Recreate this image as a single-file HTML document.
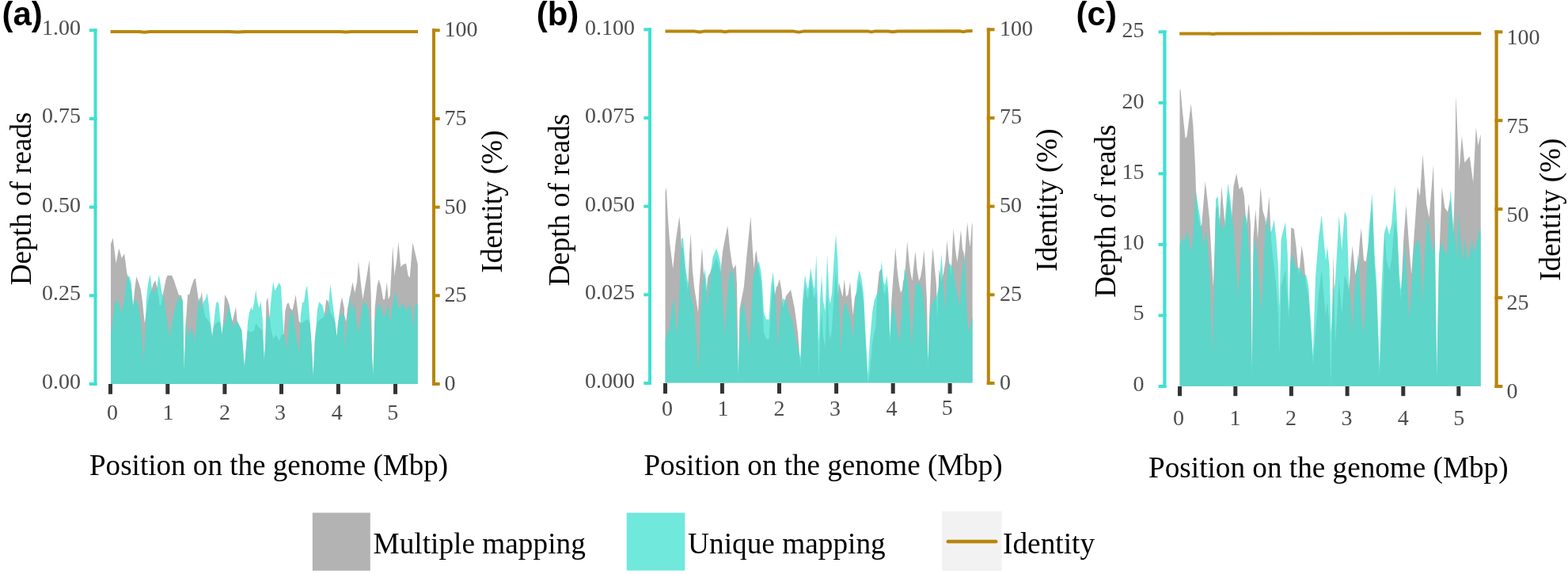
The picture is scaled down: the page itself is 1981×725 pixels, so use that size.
<!DOCTYPE html>
<html><head><meta charset="utf-8"><title>Depth of reads</title>
<style>html,body{margin:0;padding:0;background:#fff;} svg{display:block;}</style></head>
<body><svg width="1981" height="725" viewBox="0 0 1981 725">
<rect width="1981" height="725" fill="#ffffff"/>
<path d="M140.0,484.9 L140.0,307.9 L142.7,300.5 L146.6,332.8 L150.2,313.4 L153.8,325.9 L157.1,320.3 L160.4,345.2 L162.6,352.1 L164.8,359.0 L166.7,372.8 L168.1,386.6 L170.3,364.5 L172.2,349.3 L175.0,356.2 L177.8,365.9 L180.0,381.0 L181.9,400.3 L182.7,408.6 L184.7,394.8 L186.9,381.0 L188.8,372.8 L191.6,365.9 L193.5,359.0 L196.2,354.0 L198.4,363.1 L200.1,372.8 L201.8,386.6 L204.0,383.8 L205.6,372.8 L207.3,364.5 L209.5,353.4 L211.4,347.9 L217.2,347.9 L220.0,354.8 L222.7,363.1 L226.0,372.8 L228.8,372.8 L231.0,381.0 L232.7,469.3 L234.9,405.9 L237.2,371.4 L239.1,372.8 L241.1,364.5 L244.7,353.4 L246.9,351.2 L248.8,364.5 L251.0,381.0 L252.9,378.3 L254.9,368.6 L257.1,389.3 L259.3,400.3 L261.8,403.1 L264.0,405.9 L265.9,411.4 L268.1,425.2 L270.3,411.4 L272.8,408.6 L276.4,405.9 L278.6,408.6 L280.5,422.4 L282.4,400.3 L284.1,372.2 L287.4,378.3 L289.6,385.2 L291.6,397.6 L293.5,405.9 L295.7,397.6 L297.9,387.9 L299.8,405.9 L302.6,411.4 L305.3,416.9 L307.3,444.5 L308.9,463.8 L310.9,439.0 L313.1,416.9 L317.2,419.7 L321.1,416.9 L323.3,408.6 L327.4,414.1 L331.6,416.9 L333.8,455.0 L335.3,433.4 L336.4,381.0 L338.3,375.5 L340.5,400.3 L342.7,416.9 L345.2,427.9 L348.8,422.4 L352.9,430.7 L355.7,422.4 L358.4,422.4 L360.4,392.1 L362.6,383.8 L364.8,382.4 L366.7,389.3 L369.5,392.1 L371.4,383.8 L373.6,372.2 L375.8,389.3 L377.8,405.9 L380.5,408.6 L384.1,405.9 L388.0,403.1 L391.6,408.6 L393.5,433.4 L395.7,474.8 L397.9,427.9 L401.2,405.9 L405.3,403.1 L409.5,400.3 L412.2,378.3 L415.0,381.0 L417.2,394.8 L421.1,400.3 L423.3,405.9 L425.5,425.2 L427.4,405.9 L430.2,383.8 L432.1,375.5 L434.9,389.3 L435.0,397.6 L437.2,405.9 L439.1,389.3 L441.9,375.5 L445.5,356.2 L448.2,370.0 L451.0,356.2 L452.9,330.0 L455.7,356.2 L458.4,378.3 L462.6,353.4 L466.7,328.6 L468.7,372.8 L470.3,455.5 L471.4,473.4 L473.6,389.3 L476.4,361.7 L478.6,352.9 L481.3,361.7 L484.1,378.3 L486.0,378.3 L488.8,356.2 L490.7,378.3 L492.9,372.8 L496.2,310.7 L498.4,347.9 L501.2,328.6 L503.4,305.2 L506.2,336.9 L509.5,334.1 L513.1,332.8 L515.6,347.9 L517.8,350.7 L521.3,306.6 L524.7,320.3 L527.8,334.1 L527.8,484.9 Z" fill="#b3b3b3"/>
<path d="M140.0,484.9 L140.0,422.4 L141.9,408.6 L144.7,383.8 L147.4,379.7 L150.2,382.4 L153.8,396.2 L157.1,378.3 L160.4,352.1 L162.0,348.5 L164.0,350.1 L165.9,357.6 L168.1,386.6 L170.3,379.7 L172.2,377.7 L175.0,386.6 L177.8,405.9 L180.0,433.4 L181.6,458.3 L183.6,422.4 L184.7,381.0 L186.3,364.5 L188.0,353.4 L189.6,346.6 L191.6,363.1 L193.5,370.0 L196.2,367.2 L198.4,363.1 L200.7,346.6 L202.9,359.0 L204.5,370.0 L205.6,372.8 L207.3,378.3 L209.5,394.8 L212.2,411.4 L214.4,426.6 L217.2,408.6 L220.5,392.1 L223.8,381.0 L226.0,375.5 L228.8,375.5 L231.0,381.0 L232.7,469.3 L234.9,400.3 L237.2,427.9 L239.1,419.7 L241.9,414.1 L244.7,422.4 L246.6,433.4 L248.8,400.3 L251.0,378.3 L252.4,375.5 L254.9,392.1 L257.1,381.0 L259.3,378.3 L261.8,370.0 L264.0,386.6 L265.9,405.9 L268.1,425.2 L270.3,405.9 L272.8,383.8 L274.4,380.5 L276.4,383.8 L278.6,405.9 L280.5,422.4 L282.4,411.4 L284.7,405.9 L286.9,394.8 L289.6,385.2 L291.6,397.6 L293.5,408.6 L295.7,414.1 L297.9,405.9 L299.8,405.9 L302.6,411.4 L305.3,416.9 L307.3,444.5 L308.9,463.8 L310.9,439.0 L313.1,405.9 L315.0,394.8 L317.2,387.9 L319.1,392.1 L321.1,381.0 L323.3,365.9 L325.2,381.0 L327.4,389.3 L329.3,379.7 L331.6,400.3 L333.8,455.0 L335.3,433.4 L336.4,400.3 L338.3,403.1 L340.5,400.3 L343.3,370.0 L345.2,355.7 L347.4,367.2 L350.2,361.7 L352.9,357.0 L354.9,361.7 L356.5,389.3 L358.4,422.4 L360.4,427.9 L362.0,441.7 L364.0,422.4 L365.9,400.3 L368.1,393.4 L369.5,392.1 L371.4,405.9 L373.6,422.4 L375.8,433.4 L377.8,448.6 L379.7,400.3 L381.9,382.4 L384.1,381.0 L386.0,367.2 L388.0,360.3 L389.6,378.3 L391.6,405.9 L393.5,433.4 L395.7,474.8 L397.9,427.9 L401.2,389.3 L403.4,381.0 L405.3,383.8 L407.3,385.2 L409.5,394.8 L412.2,400.3 L415.0,386.6 L417.2,359.0 L419.1,372.8 L421.1,389.3 L423.3,405.9 L425.5,425.2 L427.4,405.9 L430.2,394.8 L432.1,400.3 L434.9,394.8 L435.6,440.3 L438.3,414.1 L441.9,372.8 L444.7,394.8 L447.4,381.0 L450.2,405.9 L452.9,422.4 L455.7,400.3 L459.3,381.0 L462.6,383.8 L465.3,389.3 L468.1,414.1 L470.3,455.5 L471.4,473.4 L473.6,405.9 L476.4,389.3 L479.1,383.8 L481.9,389.3 L484.7,400.3 L487.4,394.8 L490.2,383.8 L492.9,408.6 L495.7,386.6 L499.8,367.2 L502.6,386.6 L505.3,389.3 L508.1,383.8 L510.9,386.6 L513.6,394.8 L516.4,385.2 L519.1,386.6 L521.9,414.1 L524.7,385.2 L527.8,383.8 L527.8,484.9 Z" fill="#40e0d0" fill-opacity="0.75"/>
<polyline points="139.6,39.9 176.0,39.9 182.5,40.7 189.0,39.9 290.0,40.1 300.0,40.4 310.0,40.0 430.0,40.0 437.0,40.6 444.0,40.0 528.0,39.9" fill="none" stroke="#b8860b" stroke-width="4" stroke-linejoin="round"/>
<rect x="118.50" y="36.30" width="4.00" height="450.70" fill="#40e0d0"/>
<rect x="112.80" y="36.30" width="9.70" height="4.00" fill="#40e0d0"/>
<rect x="112.80" y="147.97" width="9.70" height="4.00" fill="#40e0d0"/>
<rect x="112.80" y="259.65" width="9.70" height="4.00" fill="#40e0d0"/>
<rect x="112.80" y="371.32" width="9.70" height="4.00" fill="#40e0d0"/>
<rect x="112.80" y="483.00" width="9.70" height="4.00" fill="#40e0d0"/>
<rect x="546.00" y="36.30" width="4.00" height="450.70" fill="#b8860b"/>
<rect x="546.00" y="36.30" width="9.70" height="4.00" fill="#b8860b"/>
<rect x="546.00" y="147.97" width="9.70" height="4.00" fill="#b8860b"/>
<rect x="546.00" y="259.65" width="9.70" height="4.00" fill="#b8860b"/>
<rect x="546.00" y="371.32" width="9.70" height="4.00" fill="#b8860b"/>
<rect x="546.00" y="483.00" width="9.70" height="4.00" fill="#b8860b"/>
<rect x="137.00" y="485.00" width="5.00" height="12.80" fill="#333333"/>
<rect x="209.30" y="485.00" width="5.00" height="12.80" fill="#333333"/>
<rect x="281.40" y="485.00" width="5.00" height="12.80" fill="#333333"/>
<rect x="353.00" y="485.00" width="5.00" height="12.80" fill="#333333"/>
<rect x="424.90" y="485.00" width="5.00" height="12.80" fill="#333333"/>
<rect x="497.00" y="485.00" width="5.00" height="12.80" fill="#333333"/>
<text x="53.00" y="43.62" font-family='"Liberation Serif", "Times New Roman", serif' font-size="28" fill="#4d4d4d">1.00</text>
<text x="53.00" y="155.32" font-family='"Liberation Serif", "Times New Roman", serif' font-size="28" fill="#4d4d4d">0.75</text>
<text x="53.00" y="267.73" font-family='"Liberation Serif", "Times New Roman", serif' font-size="28" fill="#4d4d4d">0.50</text>
<text x="53.00" y="379.43" font-family='"Liberation Serif", "Times New Roman", serif' font-size="28" fill="#4d4d4d">0.25</text>
<text x="53.00" y="491.12" font-family='"Liberation Serif", "Times New Roman", serif' font-size="28" fill="#4d4d4d">0.00</text>
<text x="561.40" y="46.12" font-family='"Liberation Serif", "Times New Roman", serif' font-size="28" fill="#4d4d4d">100</text>
<text x="561.40" y="158.00" font-family='"Liberation Serif", "Times New Roman", serif' font-size="28" fill="#4d4d4d">75</text>
<text x="561.40" y="269.62" font-family='"Liberation Serif", "Times New Roman", serif' font-size="28" fill="#4d4d4d">50</text>
<text x="561.40" y="381.00" font-family='"Liberation Serif", "Times New Roman", serif' font-size="28" fill="#4d4d4d">25</text>
<text x="561.40" y="492.62" font-family='"Liberation Serif", "Times New Roman", serif' font-size="28" fill="#4d4d4d">0</text>
<text x="135.10" y="530.12" font-family='"Liberation Serif", "Times New Roman", serif' font-size="28" fill="#4d4d4d">0</text>
<text x="205.43" y="530.12" font-family='"Liberation Serif", "Times New Roman", serif' font-size="28" fill="#4d4d4d">1</text>
<text x="277.02" y="530.12" font-family='"Liberation Serif", "Times New Roman", serif' font-size="28" fill="#4d4d4d">2</text>
<text x="346.98" y="530.12" font-family='"Liberation Serif", "Times New Roman", serif' font-size="28" fill="#4d4d4d">3</text>
<text x="418.80" y="530.12" font-family='"Liberation Serif", "Times New Roman", serif' font-size="28" fill="#4d4d4d">4</text>
<text x="489.25" y="530.00" font-family='"Liberation Serif", "Times New Roman", serif' font-size="28" fill="#4d4d4d">5</text>
<text x="113.00" y="600.30" font-family='"Liberation Serif", "Times New Roman", serif' font-size="37.1" fill="#000">Position on the genome (Mbp)</text>
<text transform="translate(38.55,360.32) rotate(-90)" font-family='"Liberation Serif", "Times New Roman", serif' font-size="37.2" fill="#000">Depth of reads</text>
<text transform="translate(633.65,344.65) rotate(-90)" font-family='"Liberation Serif", "Times New Roman", serif' font-size="37.1" fill="#000">Identity (%)</text>
<text x="2.40" y="32.20" font-family='"Liberation Sans", Arial, sans-serif' font-size="42" font-weight="bold" fill="#000">(a)</text>
<path d="M840.5,483.6 L840.5,243.0 L841.8,236.5 L843.0,258.6 L844.0,277.0 L846.0,304.3 L846.2,307.0 L849.0,329.8 L850.2,339.6 L851.5,326.6 L853.8,303.7 L854.7,297.6 L857.5,278.7 L858.3,273.3 L859.5,286.1 L861.0,314.0 L862.8,312.0 L866.4,351.6 L869.0,367.8 L870.9,321.7 L871.0,320.2 L872.7,294.8 L873.0,301.2 L874.8,339.6 L876.0,351.8 L877.0,362.0 L879.0,375.1 L882.0,394.7 L882.5,383.0 L883.4,362.0 L884.5,346.9 L886.5,319.5 L887.0,312.7 L888.8,343.0 L890.6,351.6 L892.4,369.5 L894.0,352.0 L895.0,348.6 L896.0,346.7 L897.8,343.2 L898.0,341.9 L900.5,337.3 L905.0,325.6 L907.6,333.7 L910.3,344.5 L913.0,317.4 L914.8,307.3 L915.7,302.8 L918.5,288.9 L919.3,284.9 L921.0,302.4 L922.0,312.7 L924.0,327.4 L924.7,332.5 L926.5,339.6 L929.0,335.4 L929.7,334.2 L931.0,360.0 L932.8,482.0 L934.5,390.0 L935.0,387.4 L939.0,366.7 L939.9,362.0 L942.0,338.5 L943.5,321.7 L946.2,295.0 L948.4,273.3 L949.0,283.6 L950.7,312.7 L951.5,324.7 L952.5,339.6 L954.3,321.7 L955.0,318.5 L955.5,316.3 L958.8,341.8 L961.5,355.2 L963.3,387.0 L965.0,420.0 L968.2,428.6 L971.5,428.6 L974.0,387.0 L976.7,355.2 L978.5,374.0 L981.0,362.0 L982.0,362.0 L983.0,358.5 L984.8,352.2 L985.0,353.3 L986.6,362.0 L987.5,366.6 L989.5,388.7 L993.0,374.0 L997.0,368.8 L999.1,366.0 L1001.0,375.3 L1003.6,388.0 L1004.0,390.0 L1006.0,405.0 L1008.0,420.0 L1011.3,464.0 L1014.0,392.0 L1017.0,358.8 L1019.5,374.0 L1021.0,377.0 L1024.2,349.8 L1027.5,372.0 L1029.0,377.0 L1031.4,366.7 L1033.0,425.0 L1034.5,477.0 L1036.0,425.0 L1038.1,391.8 L1040.0,425.0 L1042.5,438.0 L1045.2,365.8 L1047.5,420.0 L1049.0,429.0 L1051.0,415.0 L1053.5,375.0 L1056.0,340.7 L1058.5,375.0 L1060.0,357.0 L1062.0,365.0 L1062.3,366.2 L1064.5,375.0 L1066.5,355.2 L1066.8,352.2 L1068.6,370.9 L1069.0,375.0 L1071.0,372.6 L1071.5,372.0 L1074.0,355.8 L1076.0,380.0 L1077.5,398.0 L1080.0,375.0 L1083.0,367.0 L1085.6,353.4 L1088.0,362.0 L1091.0,382.0 L1093.5,432.0 L1096.4,483.6 L1099.0,470.0 L1102.0,435.0 L1104.5,420.0 L1106.2,415.0 L1108.5,365.0 L1110.7,344.1 L1112.5,340.0 L1113.9,340.9 L1116.0,367.0 L1118.0,372.0 L1120.6,359.7 L1122.5,382.0 L1124.3,437.0 L1126.0,385.0 L1128.5,350.0 L1131.3,312.7 L1133.5,340.0 L1134.0,344.0 L1136.0,360.0 L1136.7,363.5 L1138.0,370.0 L1139.0,367.5 L1140.0,365.0 L1141.0,355.2 L1142.6,351.6 L1144.5,330.0 L1146.2,304.6 L1147.0,313.4 L1148.5,330.0 L1149.5,337.5 L1150.5,345.0 L1152.0,352.5 L1152.5,355.0 L1154.5,335.0 L1156.5,317.2 L1157.0,322.9 L1158.5,340.0 L1160.0,349.0 L1161.0,355.0 L1163.0,350.0 L1165.5,335.0 L1166.0,329.2 L1167.2,315.4 L1169.0,340.0 L1171.0,380.0 L1172.5,465.9 L1174.5,390.0 L1176.5,340.0 L1177.0,333.2 L1178.5,312.7 L1180.0,329.1 L1181.0,340.0 L1183.0,360.0 L1184.0,405.7 L1186.5,340.0 L1189.4,355.4 L1192.0,345.0 L1194.0,333.0 L1194.5,330.0 L1196.4,304.0 L1197.0,310.0 L1199.0,330.0 L1201.0,346.0 L1201.5,347.0 L1204.0,297.7 L1204.6,288.7 L1207.0,315.0 L1209.3,331.0 L1210.0,325.9 L1211.5,315.0 L1212.8,302.0 L1214.0,290.0 L1215.0,302.5 L1216.0,315.0 L1217.5,319.0 L1218.6,331.0 L1220.5,300.0 L1222.2,280.5 L1223.3,292.4 L1224.0,300.0 L1225.7,312.0 L1226.0,307.9 L1228.0,280.5 L1228.6,285.0 L1228.6,483.6 Z" fill="#b3b3b3"/>
<path d="M840.5,483.6 L840.5,430.0 L841.8,424.8 L843.0,420.0 L844.0,418.7 L846.0,416.0 L846.2,413.9 L849.0,385.0 L850.2,381.6 L851.5,378.0 L853.8,411.8 L854.7,425.0 L857.5,390.0 L858.3,366.0 L859.5,330.0 L861.0,302.0 L862.8,300.0 L866.4,339.6 L869.0,355.8 L870.9,361.7 L871.0,362.0 L872.7,373.1 L873.0,375.0 L874.8,381.0 L876.0,385.0 L877.0,396.7 L879.0,420.0 L882.0,461.1 L882.5,468.0 L883.4,441.9 L884.5,410.0 L886.5,370.0 L887.0,365.7 L888.8,350.0 L890.6,339.6 L892.4,357.5 L894.0,387.5 L895.0,373.8 L896.0,360.0 L897.8,344.7 L898.0,343.0 L900.5,325.3 L905.0,313.6 L907.6,321.7 L910.3,332.5 L913.0,380.0 L914.8,408.9 L915.7,423.4 L918.5,380.0 L919.3,370.4 L921.0,350.0 L922.0,346.7 L924.0,340.0 L924.7,341.4 L926.5,345.0 L929.0,370.0 L929.7,388.4 L931.0,422.6 L932.8,470.0 L934.5,415.9 L935.0,400.0 L939.0,380.0 L939.9,386.0 L942.0,400.0 L943.5,413.5 L946.2,437.7 L948.4,408.1 L949.0,400.0 L950.7,366.0 L951.5,350.0 L952.5,347.1 L954.3,342.0 L955.0,340.0 L955.5,338.7 L958.8,329.8 L961.5,343.2 L963.3,362.0 L965.0,395.0 L968.2,403.6 L971.5,403.6 L974.0,362.0 L976.7,343.2 L978.5,362.0 L981.0,400.0 L982.0,420.6 L983.0,441.3 L984.8,404.1 L985.0,400.0 L986.6,390.4 L987.5,385.0 L989.5,376.7 L993.0,380.0 L997.0,395.0 L999.1,400.3 L1001.0,405.0 L1003.6,419.8 L1004.0,421.5 L1006.0,430.0 L1008.0,438.3 L1011.3,452.0 L1014.0,380.0 L1017.0,346.8 L1019.5,362.0 L1021.0,365.0 L1024.2,337.8 L1027.5,360.0 L1029.0,365.0 L1031.4,321.7 L1033.0,380.0 L1034.5,432.0 L1036.0,380.0 L1038.1,346.8 L1040.0,380.0 L1042.5,393.0 L1045.2,320.8 L1047.5,375.0 L1049.0,384.0 L1051.0,370.0 L1053.5,330.0 L1056.0,295.7 L1058.5,330.0 L1060.0,380.0 L1062.0,438.0 L1062.3,446.7 L1064.5,400.0 L1066.5,385.0 L1066.8,384.6 L1068.6,382.0 L1069.0,383.3 L1071.0,390.0 L1071.5,391.7 L1074.0,400.0 L1076.0,416.4 L1077.5,428.7 L1080.0,390.0 L1083.0,355.0 L1085.6,341.4 L1088.0,350.0 L1091.0,370.0 L1093.5,420.0 L1096.4,473.6 L1099.0,430.0 L1102.0,395.0 L1104.5,380.0 L1106.2,375.0 L1108.5,370.0 L1110.7,365.0 L1112.5,345.0 L1113.9,328.9 L1116.0,355.0 L1118.0,360.0 L1120.6,347.7 L1122.5,370.0 L1124.3,425.0 L1126.0,400.0 L1128.5,385.0 L1131.3,400.0 L1133.5,416.3 L1134.0,420.0 L1136.0,429.1 L1136.7,432.3 L1138.0,414.0 L1139.0,400.0 L1140.0,385.0 L1141.0,370.0 L1142.6,339.6 L1144.5,345.0 L1146.2,355.2 L1147.0,360.0 L1148.5,384.0 L1149.5,400.0 L1150.5,415.1 L1152.0,437.7 L1152.5,428.2 L1154.5,390.0 L1156.5,366.0 L1157.0,360.0 L1158.5,358.5 L1160.0,357.0 L1161.0,358.0 L1163.0,360.0 L1165.5,368.3 L1166.0,370.0 L1167.2,382.0 L1169.0,400.0 L1171.0,430.8 L1172.5,453.9 L1174.5,400.0 L1176.5,388.0 L1177.0,385.0 L1178.5,381.5 L1180.0,378.0 L1181.0,377.0 L1183.0,375.0 L1184.0,370.7 L1186.5,360.0 L1189.4,320.4 L1192.0,360.0 L1194.0,392.0 L1194.5,384.2 L1196.4,354.4 L1197.0,345.0 L1199.0,332.7 L1201.0,334.0 L1201.5,335.0 L1204.0,340.0 L1204.6,344.0 L1207.0,360.0 L1209.3,371.5 L1210.0,375.0 L1211.5,381.4 L1212.8,387.0 L1214.0,366.8 L1215.0,350.0 L1216.0,341.4 L1217.5,328.5 L1218.6,319.0 L1220.5,370.0 L1222.2,400.4 L1223.3,420.0 L1224.0,417.4 L1225.7,411.1 L1226.0,410.0 L1228.0,402.3 L1228.6,400.0 L1228.6,483.6 Z" fill="#40e0d0" fill-opacity="0.75"/>
<polyline points="840.5,39.6 878.0,39.6 883.5,40.5 889.0,39.6 911.0,39.6 916.0,40.3 921.0,39.6 1003.0,39.6 1009.0,40.6 1015.0,39.6 1096.0,39.4 1101.0,40.4 1106.0,39.4 1122.0,39.4 1128.0,40.2 1134.0,39.4 1212.0,39.2 1217.0,40.1 1222.0,39.2 1228.6,39.0" fill="none" stroke="#b8860b" stroke-width="4" stroke-linejoin="round"/>
<rect x="819.00" y="35.30" width="4.00" height="450.70" fill="#40e0d0"/>
<rect x="813.30" y="35.30" width="9.70" height="4.00" fill="#40e0d0"/>
<rect x="813.30" y="146.97" width="9.70" height="4.00" fill="#40e0d0"/>
<rect x="813.30" y="258.65" width="9.70" height="4.00" fill="#40e0d0"/>
<rect x="813.30" y="370.32" width="9.70" height="4.00" fill="#40e0d0"/>
<rect x="813.30" y="482.00" width="9.70" height="4.00" fill="#40e0d0"/>
<rect x="1246.80" y="35.30" width="4.00" height="450.70" fill="#b8860b"/>
<rect x="1246.80" y="35.30" width="9.70" height="4.00" fill="#b8860b"/>
<rect x="1246.80" y="146.97" width="9.70" height="4.00" fill="#b8860b"/>
<rect x="1246.80" y="258.65" width="9.70" height="4.00" fill="#b8860b"/>
<rect x="1246.80" y="370.32" width="9.70" height="4.00" fill="#b8860b"/>
<rect x="1246.80" y="482.00" width="9.70" height="4.00" fill="#b8860b"/>
<rect x="838.00" y="484.00" width="5.00" height="13.20" fill="#333333"/>
<rect x="909.90" y="484.00" width="5.00" height="13.20" fill="#333333"/>
<rect x="982.00" y="484.00" width="5.00" height="13.20" fill="#333333"/>
<rect x="1054.10" y="484.00" width="5.00" height="13.20" fill="#333333"/>
<rect x="1125.70" y="484.00" width="5.00" height="13.20" fill="#333333"/>
<rect x="1197.60" y="484.00" width="5.00" height="13.20" fill="#333333"/>
<text x="739.00" y="43.83" font-family='"Liberation Serif", "Times New Roman", serif' font-size="28" fill="#4d4d4d">0.100</text>
<text x="739.00" y="155.12" font-family='"Liberation Serif", "Times New Roman", serif' font-size="28" fill="#4d4d4d">0.075</text>
<text x="739.00" y="266.73" font-family='"Liberation Serif", "Times New Roman", serif' font-size="28" fill="#4d4d4d">0.050</text>
<text x="739.00" y="378.43" font-family='"Liberation Serif", "Times New Roman", serif' font-size="28" fill="#4d4d4d">0.025</text>
<text x="739.00" y="490.12" font-family='"Liberation Serif", "Times New Roman", serif' font-size="28" fill="#4d4d4d">0.000</text>
<text x="1263.00" y="44.73" font-family='"Liberation Serif", "Times New Roman", serif' font-size="28" fill="#4d4d4d">100</text>
<text x="1263.00" y="156.00" font-family='"Liberation Serif", "Times New Roman", serif' font-size="28" fill="#4d4d4d">75</text>
<text x="1263.00" y="268.12" font-family='"Liberation Serif", "Times New Roman", serif' font-size="28" fill="#4d4d4d">50</text>
<text x="1263.00" y="380.00" font-family='"Liberation Serif", "Times New Roman", serif' font-size="28" fill="#4d4d4d">25</text>
<text x="1263.00" y="492.12" font-family='"Liberation Serif", "Times New Roman", serif' font-size="28" fill="#4d4d4d">0</text>
<text x="836.10" y="524.52" font-family='"Liberation Serif", "Times New Roman", serif' font-size="28" fill="#4d4d4d">0</text>
<text x="906.42" y="524.52" font-family='"Liberation Serif", "Times New Roman", serif' font-size="28" fill="#4d4d4d">1</text>
<text x="977.62" y="524.52" font-family='"Liberation Serif", "Times New Roman", serif' font-size="28" fill="#4d4d4d">2</text>
<text x="1047.97" y="524.52" font-family='"Liberation Serif", "Times New Roman", serif' font-size="28" fill="#4d4d4d">3</text>
<text x="1119.40" y="524.52" font-family='"Liberation Serif", "Times New Roman", serif' font-size="28" fill="#4d4d4d">4</text>
<text x="1189.85" y="524.40" font-family='"Liberation Serif", "Times New Roman", serif' font-size="28" fill="#4d4d4d">5</text>
<text x="813.50" y="600.30" font-family='"Liberation Serif", "Times New Roman", serif' font-size="37.1" fill="#000">Position on the genome (Mbp)</text>
<text transform="translate(719.30,361.33) rotate(-90)" font-family='"Liberation Serif", "Times New Roman", serif' font-size="36.95" fill="#000">Depth of reads</text>
<text transform="translate(1335.05,342.65) rotate(-90)" font-family='"Liberation Serif", "Times New Roman", serif' font-size="37.1" fill="#000">Identity (%)</text>
<text x="677.70" y="32.20" font-family='"Liberation Sans", Arial, sans-serif' font-size="42" font-weight="bold" fill="#000">(b)</text>
<path d="M1490.5,487.7 L1490.5,115.0 L1491.3,111.3 L1493.0,129.9 L1494.0,140.9 L1496.0,159.8 L1497.6,175.0 L1499.5,172.0 L1500.2,166.5 L1502.5,148.3 L1504.7,131.0 L1507.0,154.7 L1507.4,158.8 L1509.0,190.0 L1510.1,212.6 L1511.0,240.8 L1513.7,272.5 L1516.4,286.8 L1518.2,283.8 L1520.5,255.8 L1522.7,229.0 L1523.6,236.5 L1525.4,251.5 L1526.0,257.3 L1528.0,276.6 L1528.5,285.6 L1530.7,325.0 L1531.6,340.9 L1532.8,362.0 L1534.0,328.8 L1534.5,315.0 L1536.1,263.5 L1538.8,260.0 L1540.6,286.8 L1543.0,239.8 L1543.3,235.4 L1546.0,265.9 L1547.8,286.8 L1551.4,243.8 L1554.0,260.0 L1555.9,277.9 L1558.5,235.4 L1561.0,223.9 L1562.1,218.9 L1564.5,232.3 L1565.7,239.0 L1567.0,237.7 L1569.3,235.4 L1572.0,248.0 L1574.7,286.8 L1577.0,261.9 L1577.9,256.9 L1579.0,271.0 L1580.0,283.8 L1581.8,476.9 L1583.5,300.0 L1586.3,264.1 L1589.0,301.7 L1591.0,264.9 L1592.6,235.4 L1593.7,247.8 L1595.3,265.9 L1596.5,269.9 L1598.0,274.8 L1599.8,285.0 L1603.4,247.9 L1606.1,304.8 L1609.7,337.5 L1612.4,361.7 L1615.0,397.6 L1616.3,448.5 L1618.6,361.7 L1624.0,340.2 L1626.7,379.7 L1628.4,404.0 L1630.0,344.2 L1631.2,287.4 L1632.5,288.0 L1634.8,289.2 L1635.0,290.8 L1637.5,310.7 L1641.0,349.6 L1644.6,309.8 L1647.3,328.7 L1650.0,358.6 L1653.0,372.0 L1658.8,460.1 L1662.0,420.0 L1666.0,370.0 L1669.7,341.3 L1672.4,371.7 L1675.0,398.7 L1676.9,380.7 L1679.6,407.6 L1681.5,487.7 L1684.5,319.7 L1687.0,435.0 L1691.7,352.2 L1695.2,396.0 L1698.8,346.8 L1701.5,354.8 L1704.2,367.6 L1706.5,332.7 L1708.4,313.7 L1708.7,310.7 L1711.0,333.6 L1712.3,346.6 L1715.9,331.7 L1718.0,302.8 L1719.8,288.3 L1720.5,297.1 L1722.5,322.4 L1723.0,328.7 L1725.0,330.0 L1725.7,330.4 L1729.3,304.8 L1733.5,256.3 L1736.5,331.7 L1739.2,372.0 L1742.8,475.0 L1745.5,405.0 L1748.0,354.6 L1749.1,287.4 L1751.7,328.8 L1755.3,341.4 L1758.0,328.8 L1762.2,277.7 L1765.2,295.8 L1767.9,358.6 L1769.8,378.0 L1773.3,301.7 L1775.0,278.9 L1776.5,258.7 L1778.0,279.5 L1779.6,301.7 L1780.4,312.0 L1783.0,345.3 L1783.1,346.6 L1786.0,306.1 L1787.6,283.8 L1789.5,255.9 L1790.9,235.4 L1791.5,237.9 L1793.9,247.9 L1794.0,246.4 L1797.3,197.7 L1797.5,194.7 L1800.0,229.3 L1802.0,256.9 L1803.8,265.9 L1805.6,274.8 L1807.0,257.5 L1809.5,226.6 L1811.0,208.1 L1812.7,283.8 L1815.2,482.5 L1818.0,332.0 L1821.7,236.3 L1825.0,260.1 L1825.3,262.3 L1828.0,266.3 L1828.9,267.7 L1832.5,251.0 L1836.0,295.8 L1837.8,240.0 L1838.5,184.1 L1839.3,120.2 L1840.5,147.0 L1842.3,187.2 L1843.6,216.2 L1845.0,196.6 L1846.8,171.4 L1848.0,182.7 L1850.4,205.4 L1851.3,204.3 L1854.0,200.8 L1856.7,197.4 L1857.0,199.6 L1860.0,221.7 L1861.2,230.6 L1862.0,215.0 L1864.8,160.6 L1865.0,162.4 L1867.4,184.0 L1869.2,176.1 L1870.7,169.6 L1870.7,487.7 Z" fill="#b3b3b3"/>
<path d="M1490.5,487.7 L1490.5,310.0 L1491.3,306.8 L1493.0,300.0 L1494.0,301.7 L1496.0,305.0 L1497.6,300.0 L1499.5,294.1 L1500.2,291.9 L1502.5,305.0 L1504.7,319.7 L1507.0,300.0 L1507.4,294.0 L1509.0,270.0 L1510.1,254.9 L1511.0,242.6 L1513.7,260.5 L1516.4,274.8 L1518.2,290.0 L1520.5,310.0 L1522.7,297.2 L1523.6,291.9 L1525.4,305.5 L1526.0,310.0 L1528.0,342.0 L1528.5,350.0 L1530.7,418.3 L1531.6,446.2 L1532.8,403.1 L1534.0,360.0 L1534.5,334.2 L1536.1,251.5 L1538.8,248.0 L1540.6,274.8 L1543.0,285.0 L1543.3,285.5 L1546.0,290.0 L1547.8,274.8 L1551.4,231.8 L1554.0,248.0 L1555.9,265.9 L1558.5,290.0 L1561.0,330.0 L1562.1,344.3 L1564.5,375.5 L1565.7,353.7 L1567.0,330.0 L1569.3,290.0 L1572.0,270.0 L1574.7,274.8 L1577.0,300.0 L1577.9,313.5 L1579.0,330.0 L1580.0,378.2 L1581.8,464.9 L1583.5,320.0 L1586.3,300.0 L1589.0,330.0 L1591.0,360.0 L1592.6,380.1 L1593.7,394.0 L1595.3,357.4 L1596.5,330.0 L1598.0,304.1 L1599.8,273.0 L1603.4,290.0 L1606.1,292.8 L1609.7,277.5 L1612.4,301.7 L1615.0,337.6 L1616.3,388.5 L1618.6,301.7 L1624.0,280.2 L1626.7,319.7 L1628.4,392.0 L1630.0,332.2 L1631.2,325.2 L1632.5,320.0 L1634.8,329.2 L1635.0,330.0 L1637.5,340.0 L1641.0,337.6 L1644.6,345.0 L1647.3,350.0 L1650.0,346.6 L1653.0,360.0 L1658.8,448.1 L1662.0,350.0 L1666.0,300.0 L1669.7,271.3 L1672.4,301.7 L1675.0,328.7 L1676.9,310.7 L1679.6,337.6 L1681.5,420.0 L1684.5,370.0 L1687.0,355.0 L1691.7,272.2 L1695.2,316.0 L1698.8,266.8 L1701.5,274.8 L1704.2,355.6 L1706.5,380.0 L1708.4,422.0 L1708.7,416.0 L1711.0,370.0 L1712.3,356.7 L1715.9,319.7 L1718.0,360.0 L1719.8,388.8 L1720.5,400.0 L1722.5,424.0 L1723.0,415.2 L1725.0,380.0 L1725.7,365.8 L1729.3,292.8 L1733.5,244.3 L1736.5,319.7 L1739.2,360.0 L1742.8,463.0 L1745.5,360.0 L1748.0,309.6 L1749.1,295.2 L1751.7,283.8 L1755.3,296.4 L1758.0,283.8 L1762.2,232.7 L1765.2,283.8 L1767.9,346.6 L1769.8,366.0 L1773.3,330.0 L1775.0,307.0 L1776.5,333.5 L1778.0,360.0 L1779.6,387.7 L1780.4,401.5 L1783.0,370.0 L1783.1,368.3 L1786.0,320.0 L1787.6,311.8 L1789.5,302.0 L1790.9,304.1 L1791.5,305.0 L1793.9,309.8 L1794.0,310.0 L1797.3,383.0 L1797.5,378.3 L1800.0,320.0 L1802.0,294.8 L1803.8,272.2 L1805.6,287.8 L1807.0,300.0 L1809.5,320.0 L1811.0,310.6 L1812.7,300.0 L1815.2,470.5 L1818.0,320.0 L1821.7,305.0 L1825.0,320.0 L1825.3,320.0 L1828.0,320.0 L1828.9,303.8 L1832.5,239.0 L1836.0,283.8 L1837.8,295.5 L1838.5,300.0 L1839.3,312.0 L1840.5,330.0 L1842.3,265.0 L1843.6,281.9 L1845.0,300.0 L1846.8,318.0 L1848.0,330.0 L1850.4,308.2 L1851.3,300.0 L1854.0,330.0 L1856.7,321.0 L1857.0,320.0 L1860.0,300.0 L1861.2,312.0 L1862.0,320.0 L1864.8,310.7 L1865.0,310.0 L1867.4,299.1 L1869.2,291.0 L1870.7,292.0 L1870.7,487.7 Z" fill="#40e0d0" fill-opacity="0.75"/>
<polyline points="1490.2,42.4 1528.0,42.4 1532.5,43.1 1537.0,42.4 1871.3,42.3" fill="none" stroke="#b8860b" stroke-width="4" stroke-linejoin="round"/>
<rect x="1469.30" y="38.30" width="4.20" height="451.70" fill="#40e0d0"/>
<rect x="1463.60" y="38.30" width="9.90" height="4.00" fill="#40e0d0"/>
<rect x="1463.60" y="127.84" width="9.90" height="4.00" fill="#40e0d0"/>
<rect x="1463.60" y="217.38" width="9.90" height="4.00" fill="#40e0d0"/>
<rect x="1463.60" y="306.92" width="9.90" height="4.00" fill="#40e0d0"/>
<rect x="1463.60" y="396.46" width="9.90" height="4.00" fill="#40e0d0"/>
<rect x="1463.60" y="486.00" width="9.90" height="4.00" fill="#40e0d0"/>
<rect x="1888.50" y="38.30" width="4.20" height="451.70" fill="#b8860b"/>
<rect x="1888.50" y="38.30" width="9.90" height="4.00" fill="#b8860b"/>
<rect x="1888.50" y="150.22" width="9.90" height="4.00" fill="#b8860b"/>
<rect x="1888.50" y="262.15" width="9.90" height="4.00" fill="#b8860b"/>
<rect x="1888.50" y="374.07" width="9.90" height="4.00" fill="#b8860b"/>
<rect x="1888.50" y="486.00" width="9.90" height="4.00" fill="#b8860b"/>
<rect x="1488.00" y="488.00" width="5.00" height="12.20" fill="#333333"/>
<rect x="1558.30" y="488.00" width="5.00" height="12.20" fill="#333333"/>
<rect x="1628.90" y="488.00" width="5.00" height="12.20" fill="#333333"/>
<rect x="1699.60" y="488.00" width="5.00" height="12.20" fill="#333333"/>
<rect x="1770.30" y="488.00" width="5.00" height="12.20" fill="#333333"/>
<rect x="1840.30" y="488.00" width="5.00" height="12.20" fill="#333333"/>
<text x="1417.60" y="46.60" font-family='"Liberation Serif", "Times New Roman", serif' font-size="28" fill="#4d4d4d">25</text>
<text x="1417.60" y="136.53" font-family='"Liberation Serif", "Times New Roman", serif' font-size="28" fill="#4d4d4d">20</text>
<text x="1417.60" y="225.90" font-family='"Liberation Serif", "Times New Roman", serif' font-size="28" fill="#4d4d4d">15</text>
<text x="1417.60" y="315.32" font-family='"Liberation Serif", "Times New Roman", serif' font-size="28" fill="#4d4d4d">10</text>
<text x="1431.60" y="404.20" font-family='"Liberation Serif", "Times New Roman", serif' font-size="28" fill="#4d4d4d">5</text>
<text x="1431.60" y="494.32" font-family='"Liberation Serif", "Times New Roman", serif' font-size="28" fill="#4d4d4d">0</text>
<text x="1903.50" y="56.12" font-family='"Liberation Serif", "Times New Roman", serif' font-size="28" fill="#4d4d4d">100</text>
<text x="1903.50" y="167.50" font-family='"Liberation Serif", "Times New Roman", serif' font-size="28" fill="#4d4d4d">75</text>
<text x="1903.50" y="279.62" font-family='"Liberation Serif", "Times New Roman", serif' font-size="28" fill="#4d4d4d">50</text>
<text x="1903.50" y="391.00" font-family='"Liberation Serif", "Times New Roman", serif' font-size="28" fill="#4d4d4d">25</text>
<text x="1903.50" y="503.12" font-family='"Liberation Serif", "Times New Roman", serif' font-size="28" fill="#4d4d4d">0</text>
<text x="1482.10" y="536.62" font-family='"Liberation Serif", "Times New Roman", serif' font-size="28" fill="#4d4d4d">0</text>
<text x="1553.42" y="536.62" font-family='"Liberation Serif", "Times New Roman", serif' font-size="28" fill="#4d4d4d">1</text>
<text x="1624.12" y="536.62" font-family='"Liberation Serif", "Times New Roman", serif' font-size="28" fill="#4d4d4d">2</text>
<text x="1694.58" y="536.62" font-family='"Liberation Serif", "Times New Roman", serif' font-size="28" fill="#4d4d4d">3</text>
<text x="1765.80" y="536.62" font-family='"Liberation Serif", "Times New Roman", serif' font-size="28" fill="#4d4d4d">4</text>
<text x="1836.15" y="536.50" font-family='"Liberation Serif", "Times New Roman", serif' font-size="28" fill="#4d4d4d">5</text>
<text x="1451.10" y="603.10" font-family='"Liberation Serif", "Times New Roman", serif' font-size="37.2" fill="#000">Position on the genome (Mbp)</text>
<text transform="translate(1408.90,375.70) rotate(-90)" font-family='"Liberation Serif", "Times New Roman", serif' font-size="37.1" fill="#000">Depth of reads</text>
<text transform="translate(1970.55,354.85) rotate(-90)" font-family='"Liberation Serif", "Times New Roman", serif' font-size="37.1" fill="#000">Identity (%)</text>
<text x="1359.60" y="32.20" font-family='"Liberation Sans", Arial, sans-serif' font-size="42" font-weight="bold" fill="#000">(c)</text>
<rect x="394.80" y="647.60" width="73.00" height="73.20" fill="#b3b3b3"/>
<rect x="791.70" y="647.60" width="73.60" height="73.00" fill="#40e0d0" fill-opacity="0.75"/>
<rect x="1189.90" y="645.70" width="75.80" height="75.30" fill="#f2f2f2"/>
<rect x="1195.60" y="681.70" width="64.80" height="4.60" fill="#b8860b" rx="2"/>
<text x="471.50" y="698.90" font-family='"Liberation Serif", "Times New Roman", serif' font-size="37.3" fill="#000">Multiple mapping</text>
<text x="869.05" y="698.90" font-family='"Liberation Serif", "Times New Roman", serif' font-size="37.3" fill="#000">Unique mapping</text>
<text x="1267.05" y="698.90" font-family='"Liberation Serif", "Times New Roman", serif' font-size="37.3" fill="#000">Identity</text>
</svg></body></html>
